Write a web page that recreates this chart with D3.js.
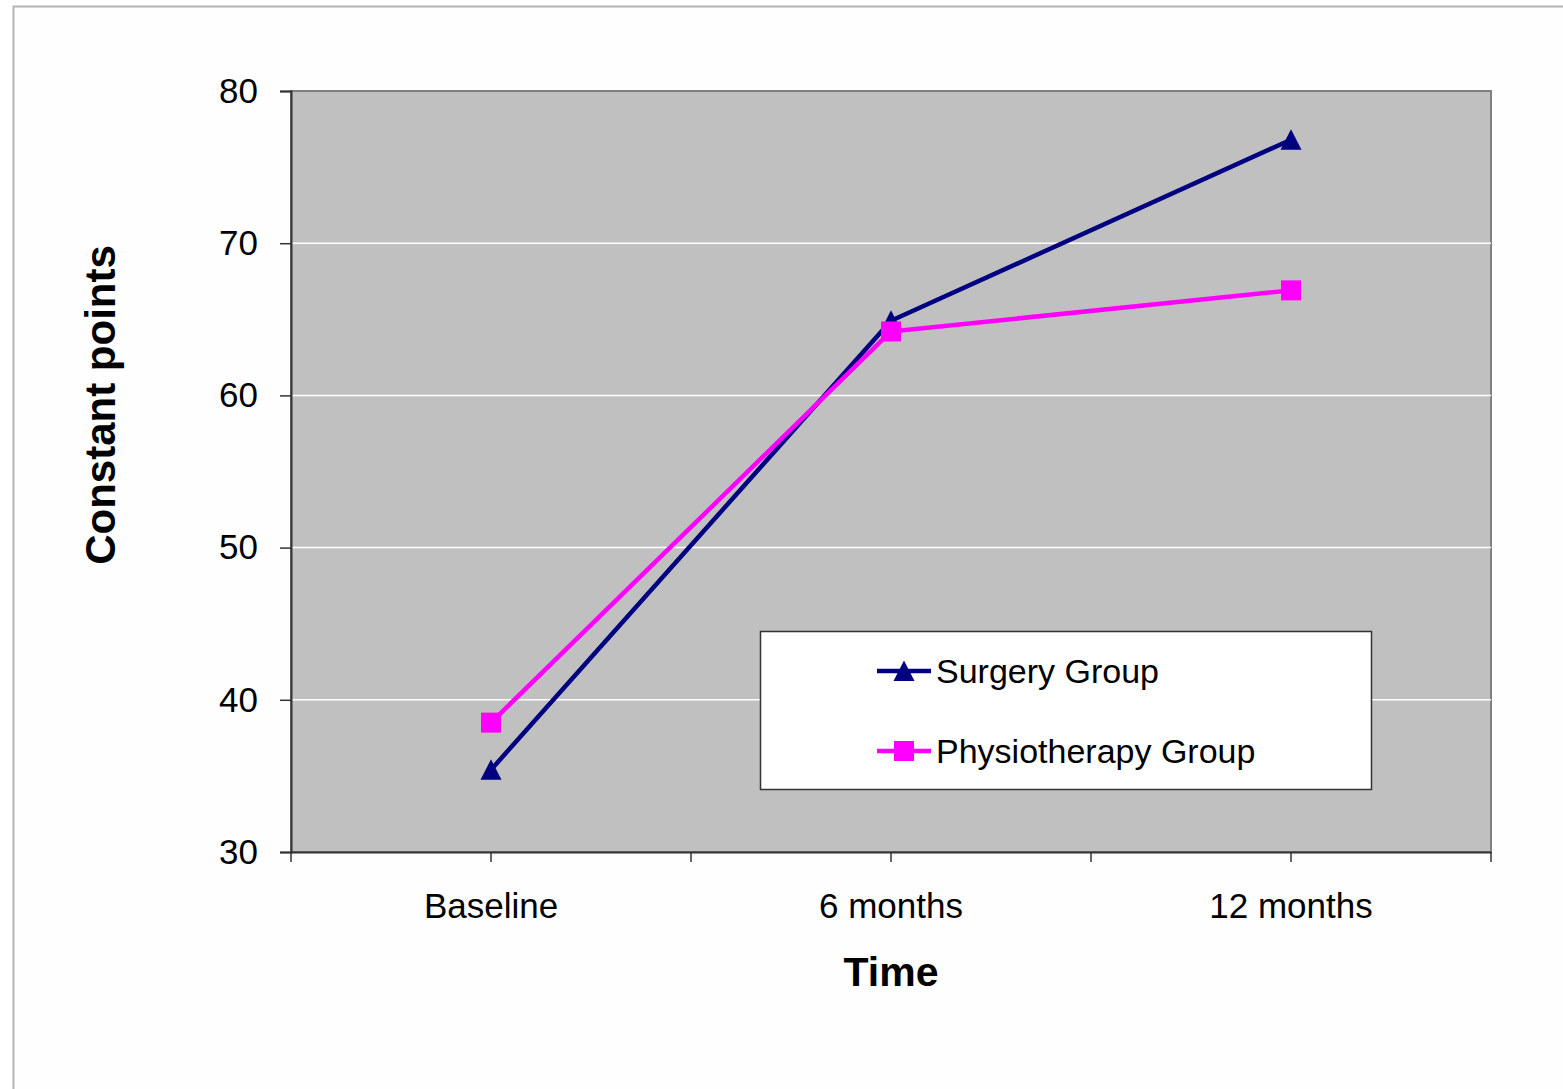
<!DOCTYPE html>
<html>
<head>
<meta charset="utf-8">
<script src="https://cdn.jsdelivr.net/npm/d3@7"></script>
<style>
  html, body { margin: 0; padding: 0; background: #ffffff; }
  svg { display: block; }
  text { font-family: "Liberation Sans", Arial, sans-serif; fill: #000; }
</style>
</head>
<body>
<svg id="chart" width="1563" height="1089"></svg>
<script>
const categories = ["Baseline", "6 months", "12 months"];
const surgery = [35.4, 64.9, 76.8];
const physio = [38.5, 64.2, 66.9];
const yTicks = [30, 40, 50, 60, 70, 80];
const seriesNames = ["Surgery Group", "Physiotherapy Group"];
const xTitle = "Time";
const yTitle = "Constant  points";

(function () {
const svg = d3.select("#chart");
const W = 1563, H = 1089;
const pL = 291, pR = 1491, pT = 91, pB = 852;

// outer frame
svg.append("rect").attr("x", 13.5).attr("y", 6.5).attr("width", W).attr("height", H)
  .attr("fill", "#fefefe").attr("stroke", "#b4b4b4").attr("stroke-width", 2);

const x = d3.scaleBand().domain(categories).range([pL, pR]).padding(0);
const cx = c => x(c) + x.bandwidth() / 2;
const y = d3.scaleLinear().domain([30, 80]).range([pB, pT]);

// plot background
svg.append("rect").attr("x", pL).attr("y", pT).attr("width", pR - pL).attr("height", pB - pT)
  .attr("fill", "#c0c0c0").attr("stroke", "#808080").attr("stroke-width", 2);

// gridlines
svg.append("g").selectAll("line").data(yTicks.filter(t => t > 30 && t < 80)).join("line")
  .attr("x1", pL).attr("x2", pR).attr("y1", d => y(d)).attr("y2", d => y(d))
  .attr("stroke", "#ffffff").attr("stroke-width", 1.5);

// y axis
const yAxis = svg.append("g").attr("transform", `translate(${pL},0)`)
  .call(d3.axisLeft(y).tickValues(yTicks).tickSize(11).tickPadding(22).tickFormat(d3.format("d")));
yAxis.select(".domain").attr("stroke", "#333").attr("stroke-width", 2);
yAxis.selectAll(".tick line").attr("stroke", "#333").attr("stroke-width", 1.5);
yAxis.selectAll(".tick text").style("font-size", "35px").style("font-family", "Liberation Sans, Arial, sans-serif").attr("fill", "#000");

// x axis
const xAxis = svg.append("g").attr("transform", `translate(0,${pB})`)
  .call(d3.axisBottom(x).tickSize(10).tickPadding(40).tickSizeOuter(0));
xAxis.select(".domain").attr("stroke", "#333").attr("stroke-width", 2);
xAxis.selectAll(".tick line").attr("stroke", "#333").attr("stroke-width", 1.5);
xAxis.selectAll(".tick text").style("font-size", "35px").style("font-family", "Liberation Sans, Arial, sans-serif").attr("fill", "#000").attr("dy", "0.45em");
// band edge ticks
const edges = categories.map(c => x(c)).concat([x(categories[categories.length - 1]) + x.bandwidth()]);
svg.append("g").selectAll("line").data(edges).join("line")
  .attr("x1", d => d).attr("x2", d => d).attr("y1", pB).attr("y2", pB + 10)
  .attr("stroke", "#333").attr("stroke-width", 1.5);

// axis titles
svg.append("text").attr("x", cx(categories[1])).attr("y", 986).attr("text-anchor", "middle")
  .style("font-size", "41px").style("font-weight", "bold").text(xTitle);
svg.append("text").attr("transform", `translate(115,405) rotate(-90)`).attr("text-anchor", "middle")
  .style("font-size", "42px").style("font-weight", "bold").text(yTitle);

const series = [
  { name: seriesNames[0], values: surgery, color: "#000080", marker: "triangle" },
  { name: seriesNames[1], values: physio, color: "#ff00ff", marker: "square" }
];

const line = d3.line().x((d, i) => cx(categories[i])).y(d => y(d));

function drawMarker(g, type, color, px, py) {
  if (type === "square") {
    g.append("rect").attr("x", px - 10).attr("y", py - 10).attr("width", 20).attr("height", 20).attr("fill", color);
  } else {
    g.append("path").attr("d", `M${px},${py - 10.5}L${px + 10.5},${py + 10}L${px - 10.5},${py + 10}Z`).attr("fill", color);
  }
}

series.forEach(s => {
  svg.append("path").datum(s.values).attr("d", line).attr("fill", "none")
    .attr("stroke", s.color).attr("stroke-width", 4.5).attr("stroke-linejoin", "round");
});
series.forEach(s => {
  const g = svg.append("g");
  s.values.forEach((v, i) => drawMarker(g, s.marker, s.color, cx(categories[i]), y(v)));
});

// legend
const lg = svg.append("g");
lg.append("rect").attr("x", 760.5).attr("y", 631.5).attr("width", 611).attr("height", 158)
  .attr("fill", "#ffffff").attr("stroke", "#333").attr("stroke-width", 1.5);
series.forEach((s, i) => {
  const ly = 671 + i * 80;
  lg.append("line").attr("x1", 877).attr("x2", 931).attr("y1", ly).attr("y2", ly)
    .attr("stroke", s.color).attr("stroke-width", 4.5);
  drawMarker(lg, s.marker, s.color, 904, ly);
  lg.append("text").attr("x", 936).attr("y", ly + 12).style("font-size", "34px").text(s.name);
});
})();
</script>
</body>
</html>
